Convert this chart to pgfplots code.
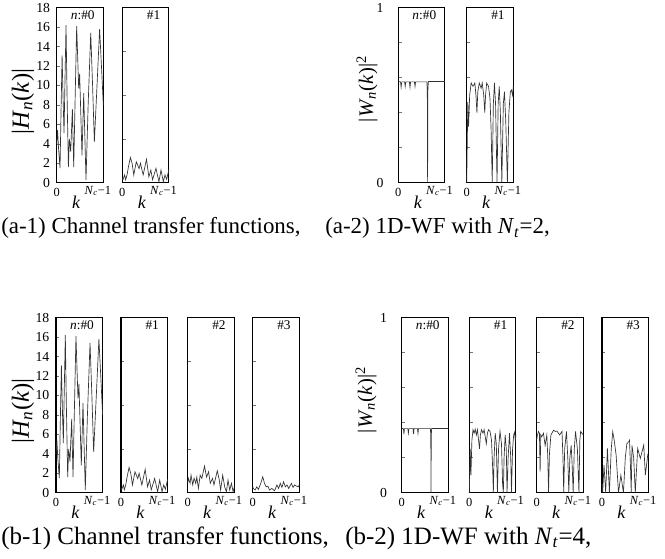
\documentclass[border=0pt]{standalone}
\usepackage{fontspec}
\setmainfont{Liberation Serif}
\usepackage{pgfplots}
\pgfplotsset{compat=1.18}
\usepackage{pgfplotstable}

% |H_0(k)|
\pgfplotstableread{
k v
0 4.0
1.2 5.4
2.5 3.5
4.5 1.5
6 8
7.3 13.1
8.5 9
9.9 5.1
11.3 11
12.6 16.2
14 9
15.8 1.6
17.1 4.5
18.9 3.2
21.2 7.6
23 1.6
25 9
27 16.1
29.7 9.7
31 11.2
34.2 2.8
36.5 9.2
39.6 0.3
42.5 8
46 15.4
48.5 10
50.9 4.2
54.5 10
58 15.8
60.5 12
63 8
}\Hzero
% |H_1(k)|
\pgfplotstableread{
k v
0 0.5
1 0.34
3.2 0.8
4.5 0.3
6.4 0.8
8.2 1.6
10.9 2.6
13.2 2.0
15.5 0.8
18.9 2.15
22.7 1.45
24.5 2.0
28.2 0.8
32.7 2.4
35.9 0.6
38.6 1.3
40.9 0.3
45.5 1.47
49.5 0.1
52.3 1.3
55.5 0.1
57.7 0.8
60 0.35
63 1.37
}\Hone
% |H_2(k)|
\pgfplotstableread{
k v
0 1.0
0.9 1.47
3.2 0.96
4.5 1.8
6.8 0.8
8.6 1.5
10.9 0.96
12.3 1.6
14.5 0.44
16.8 1.8
19.1 1.47
22.7 2.73
25.5 1.6
28.2 2.15
30.5 0.96
33.6 1.47
35.5 0.8
40 2.25
42.7 1.3
44.5 0.27
47.3 1.8
50 0.6
52.3 0.1
54.5 1.3
56.8 0.27
59.1 0.96
61.4 0.1
63 0.6
}\Htwo
% |H_3(k)|
\pgfplotstableread{
k v
0 0.6
0.9 0.44
3.2 0.27
5.5 0.6
7.7 0.34
10.9 0.96
13.6 1.64
15.9 0.96
18.2 0.6
20.5 0.68
22.7 0.27
25.9 0.44
29.5 0.2
32.7 0.8
35 0.44
37.3 0.96
39.5 0.55
41.8 1.13
44.1 0.6
46.4 0.8
48.6 0.44
52.3 0.96
54.5 0.55
56.8 0.8
59.1 0.68
61.4 0.6
63 0.8
}\Hthree
% |W_0(k)|^2, Nt=2
\pgfplotstableread{
k v
0 0.578
3 0.576
3.8 0.545
4.6 0.576
8.5 0.576
9.3 0.55
10.1 0.576
15 0.576
15.8 0.545
16.6 0.576
21.8 0.576
22.6 0.55
23.4 0.576
38.6 0.576
39.2 0.53
39.6 0.0
40.0 0.53
40.6 0.578
63 0.578
}\Wtwozero
% |W_1(k)|^2, Nt=2
\pgfplotstableread{
k v
0 0.0
1.5 0.46
2.5 0.32
4 0.5
6 0.57
8.5 0.55
11 0.57
12.5 0.5
13.8 0.40
15 0.52
17 0.57
19.5 0.54
21 0.57
23 0.5
24.4 0.40
25.5 0.5
27 0.57
29.5 0.55
31.5 0.48
33 0.3
34.5 0.0
36 0.45
37.5 0.57
39 0.45
41 0.0
42.5 0.45
44 0.55
45.5 0.4
47.5 0.0
49.5 0.45
51 0.52
52.8 0.35
55 0.0
57 0.4
59 0.52
60.5 0.53
62 0.5
63 0.55
}\Wtwoone
% |W_0(k)|^2, Nt=4
\pgfplotstableread{
k v
0 0.367
2.3 0.366
3 0.335
3.7 0.366
8.3 0.366
9 0.34
9.7 0.366
15.3 0.366
16 0.335
16.7 0.366
21.3 0.366
22 0.34
22.7 0.366
38.8 0.366
39.3 0.33
39.6 0.0
40.0 0.33
40.5 0.367
63 0.367
}\Wfourzero
% |W_1(k)|^2, Nt=4
\pgfplotstableread{
k v
0 0.0
1.2 0.25
2.2 0.1
3.5 0.3
5 0.36
6.5 0.34
8 0.363
9.5 0.33
11 0.36
12.5 0.3
13.8 0.25
15 0.33
16.5 0.36
18.5 0.34
20 0.36
21.5 0.32
23 0.28
24.5 0.34
26 0.36
28 0.35
30 0.3
31.5 0.15
32.5 0.0
33.5 0.2
35 0.34
36.5 0.28
38 0.0
39.5 0.25
41.5 0.35
43.5 0.28
45 0.05
46 0.0
47 0.2
48.5 0.33
50 0.25
51 0.0
52.5 0.2
54.3 0.34
56 0.2
57 0.0
58.5 0.25
60 0.33
61.2 0.345
62.2 0.3
63 0.33
}\Wfourone
% |W_2(k)|^2, Nt=4
\pgfplotstableread{
k v
0 0.3
0.9 0.33
2.5 0.35
3.7 0.34
4.6 0.12
5.5 0.33
6.8 0.32
9.1 0.34
11.4 0.27
13.7 0.33
15 0.2
16 0.0
17.2 0.22
19.2 0.33
22.8 0.357
25.1 0.35
27.4 0.352
31 0.33
34.2 0.35
35.5 0.2
36.5 0.0
37.8 0.25
40.2 0.35
42 0.2
43.4 0.0
44.8 0.2
46.6 0.27
48 0.15
49.3 0.0
50.8 0.25
52.5 0.35
55 0.25
57.1 0.0
58.3 0.3
59.4 0.35
61 0.34
63 0.33
}\Wfourtwo
% |W_3(k)|^2, Nt=4
\pgfplotstableread{
k v
0 0.05
0.9 0.0
2.7 0.158
5 0.0
7.3 0.253
10 0.0
12.5 0.25
14.5 0.348
16.5 0.3
19.1 0.215
22.3 0.0
25.5 0.1
29 0.0
31.5 0.2
33.6 0.28
35.9 0.29
37.2 0.3
38.5 0.15
39.5 0.0
40.5 0.27
42.8 0.2
45 0.0
48.2 0.253
51.8 0.196
56.4 0.272
58.6 0.1
61.8 0.215
63 0.2
}\Wfourthree

\pgfplotsset{
  panel/.style={
    scale only axis, width=34.95pt, height=131.25pt, anchor=south west,
    xmin=0, xmax=63, xtick=\empty,
    clip=false,
    axis line style={line width=0.85pt},
    ytick pos=left, tick align=inside, major tick length=2.5pt,
    ytick style={line width=0.4pt, black!55},
    yticklabel style={font=\fontsize{10.3}{11}\selectfont, xshift=-1.5pt},
    /pgf/number format/assume math mode=true,
  },
  Hp/.style={panel, ymin=0, ymax=18, ytick={4.5,9,13.5}, yticklabels={}},
  Hp0/.style={panel, ymin=0, ymax=18, ytick={0,2,...,18}},
  Wp/.style={panel, ymin=0, ymax=1, ytick={0.2,0.4,0.6,0.8}, yticklabels={}},
  Wp0/.style={panel, ymin=0, ymax=1, ytick={0,0.2,0.4,0.6,0.8,1}, yticklabels={0,,,,,1},
     yticklabel style={xshift=-6pt}},
  curve/.style={black!80, line width=0.5pt},
}
\newcommand{\annot}[1]{%
  \node[anchor=base, font=\fontsize{9.3}{10}\selectfont, yshift=-10.5pt] at (rel axis cs:0,0) {0};
  \node[anchor=base, font=\fontsize{9.3}{10}\selectfont, xshift=-4.1pt, yshift=-8.6pt] at (rel axis cs:1,0) {\textit{N}\textsubscript{\textit{c}}−1};
  \node[anchor=base, font=\fontsize{13.5}{15}\selectfont, yshift=-19.2pt] at (rel axis cs:0.42,0) {\textit{k}};
  \node[anchor=east, font=\fontsize{10}{11}\selectfont, xshift=-3pt, yshift=-5.6pt] at (rel axis cs:1,1) {#1};
}

\begin{document}
\begin{tikzpicture}[x=0.75pt,y=0.75pt]
\path[use as bounding box] (0,0) rectangle (665,558);

% ---------- (a-1)
\begin{axis}[Hp0, at={(42.53pt,281.48pt)}]
\addplot[curve] table[x=k,y=v] {\Hzero};
\annot{\textit{n}:\#0}
\end{axis}
\begin{axis}[Hp, at={(91.73pt,281.48pt)}]
\addplot[curve] table[x=k,y=v] {\Hone};
\annot{\#1}
\end{axis}
% ---------- (a-2)
\begin{axis}[Wp0, at={(298.73pt,281.48pt)}]
\addplot[curve] table[x=k,y=v] {\Wtwozero};
\annot{\textit{n}:\#0}
\end{axis}
\begin{axis}[Wp, at={(350.03pt,281.48pt)}]
\addplot[curve] table[x=k,y=v] {\Wtwoone};
\annot{\#1}
\end{axis}
% ---------- (b-1)
\begin{axis}[Hp0, at={(42.0pt,48.98pt)}]
\addplot[curve] table[x=k,y=v] {\Hzero};
\annot{\textit{n}:\#0}
\end{axis}
\begin{axis}[Hp, at={(90.75pt,48.98pt)}]
\addplot[curve] table[x=k,y=v] {\Hone};
\annot{\#1}
\end{axis}
\begin{axis}[Hp, at={(140.78pt,48.98pt)}]
\addplot[curve] table[x=k,y=v] {\Htwo};
\annot{\#2}
\end{axis}
\begin{axis}[Hp, at={(189.53pt,48.98pt)}]
\addplot[curve] table[x=k,y=v] {\Hthree};
\annot{\#3}
\end{axis}
% ---------- (b-2)
\begin{axis}[Wp0, at={(301.28pt,48.98pt)}]
\addplot[curve] table[x=k,y=v] {\Wfourzero};
\annot{\textit{n}:\#0}
\end{axis}
\begin{axis}[Wp, at={(351.98pt,48.98pt)}]
\addplot[curve] table[x=k,y=v] {\Wfourone};
\annot{\#1}
\end{axis}
\begin{axis}[Wp, at={(402.53pt,48.98pt)}]
\addplot[curve] table[x=k,y=v] {\Wfourtwo};
\annot{\#2}
\end{axis}
\begin{axis}[Wp, at={(451.5pt,48.98pt)}]
\addplot[curve] table[x=k,y=v] {\Wfourthree};
\annot{\#3}
\end{axis}

% y labels
\node[rotate=90, font=\fontsize{18.5}{20}\selectfont] at (23,456.4) {|\textit{H}\textsubscript{\textit{n}}(\textit{k})|};
\node[rotate=90, font=\fontsize{18.5}{20}\selectfont] at (23,147) {|\textit{H}\textsubscript{\textit{n}}(\textit{k})|};
\node[rotate=90, font=\fontsize{15.5}{18}\selectfont] at (367,469) {|\textit{W}\textsubscript{\textit{n}}(\textit{k})|\textsuperscript{2}};
\node[rotate=90, font=\fontsize{15.5}{18}\selectfont] at (366,158) {|\textit{W}\textsubscript{\textit{n}}(\textit{k})|\textsuperscript{2}};

% captions
\node[anchor=base west, inner sep=0pt, font=\fontsize{17.2}{20}\selectfont] at (1,324) {(a-1) Channel transfer functions,};
\node[anchor=base west, inner sep=0pt, font=\fontsize{17.2}{20}\selectfont] at (325,324) {(a-2) 1D-WF with \textit{N}\textsubscript{\textit{t}}=2,};
\node[anchor=base west, inner sep=0pt, font=\fontsize{18.75}{22}\selectfont] at (1,14) {(b-1) Channel transfer functions,};
\node[anchor=base west, inner sep=0pt, font=\fontsize{18.75}{22}\selectfont] at (345,14) {(b-2) 1D-WF with \textit{N}\textsubscript{\textit{t}}=4,};
\end{tikzpicture}
\end{document}
